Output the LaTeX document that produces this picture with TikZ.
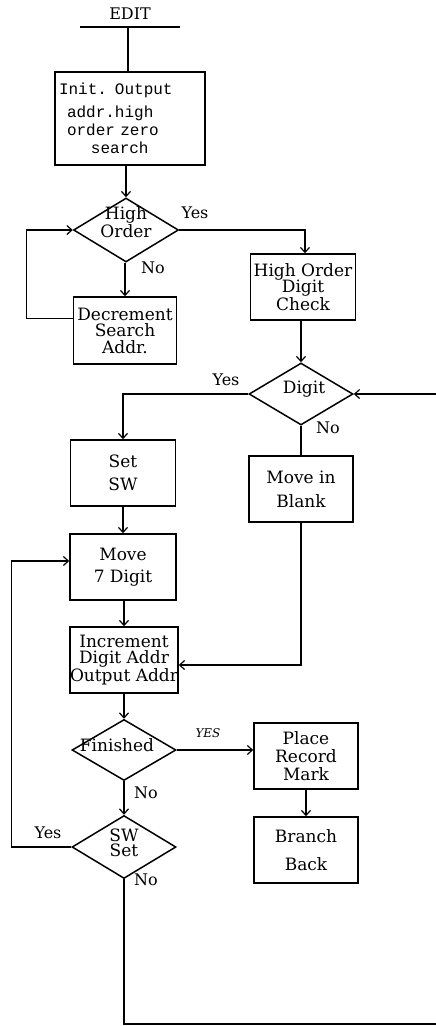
\documentclass[tikz,border=0pt]{standalone}
\usepackage{fontspec}
\setmainfont{DejaVu Serif}
\setmonofont{Liberation Mono}
\usetikzlibrary{arrows.meta,shapes.geometric,calc}

\tikzset{
  proc/.style={draw, line width=1.5pt, minimum width=104pt, minimum height=66pt,
    inner sep=0pt, align=center, font=\fontsize{17}{16.5}\selectfont},
  dec/.style={draw, diamond, line width=1.5pt, inner sep=0pt},
  dtext/.style={align=center, inner sep=0pt, font=\fontsize{17}{15}\selectfont},
  lbl/.style={inner sep=0pt, font=\fontsize{16}{16}\selectfont},
  flow/.style={line width=1.2pt},
  arr/.style={flow, -{Straight Barb[length=5pt,width=9pt]}}
}

\begin{document}
\begin{tikzpicture}[x=1pt, y=-1pt]
  \useasboundingbox (0,0) rectangle (436,1026);

  % entry
  \node[lbl, font=\fontsize{16}{16}\selectfont] (edit) at (130,14) {EDIT};
  \coordinate (editl) at (80,27);
  \coordinate (editr) at (180,27);
  \coordinate (editc) at (128,27);
  \draw[flow] (editl) -- (editr);

  % boxes
  \node[proc, minimum width=150pt, minimum height=93pt, text width=142pt, align=left,
    font=\fontsize{16}{18}\ttfamily]
    (init) at (130,118.5) {Init. Output\\[5pt]\hspace*{0.5em}addr.high\\
      \hspace*{0.5em}order zero\\\hspace*{2em}search};
  \node[proc, minimum width=103pt, minimum height=67pt] (decr) at (125,330.5)
    {Decrement\\Search\\Addr.};
  \node[proc, minimum width=105pt] (hodc) at (303,287) {High Order\\Digit\\Check};
  \node[proc, minimum width=105pt, font=\fontsize{17}{23}\selectfont] (setsw) at (123,473) {Set\\SW};
  \node[proc, minimum width=106pt, font=\fontsize{17}{22}\selectfont] (move7) at (123,567) {Move\\7 Digit};
  \node[proc, font=\fontsize{17}{24}\selectfont] (blank) at (301,489) {Move in\\Blank};
  \node[proc] (incr) at (124,660) {Increment\\Digit Addr\\Output Addr};
  \node[proc, font=\fontsize{17}{18}\selectfont] (place) at (306,756) {Place\\Record\\Mark};
  \node[proc, font=\fontsize{17}{28}\selectfont] (branch) at (306,850) {Branch\\Back};

  % decisions
  \node[dec, minimum width=105pt, minimum height=64pt] (highord) at (126,230) {};
  \node[dtext] (highordtxt) at (126,222) {High\\Order};
  \node[dec, minimum width=104pt, minimum height=62pt] (digit) at (301,394) {};
  \node[dtext] (digittxt) at (304,389) {Digit};
  \node[dec, minimum width=104pt, minimum height=61pt] (finished) at (124,750) {};
  \node[dtext] (finishedtxt) at (117,745) {Finished};
  \node[dec, minimum width=104pt, minimum height=63pt] (swset) at (124,847) {};
  \node[dtext] (swsettxt) at (124,843) {SW\\Set};

  % labels
  \node[lbl] (y1) at (195,213) {Yes};
  \node[lbl] (n1) at (153,268) {No};
  \node[lbl] (y2) at (226,380) {Yes};
  \node[lbl] (n2) at (328,428) {No};
  \node[lbl, font=\fontsize{12}{12}\itshape] (y3) at (208,733) {YES};
  \node[lbl] (n3) at (146,793) {No};
  \node[lbl] (y4) at (48,833) {Yes};
  \node[lbl] (n4) at (146,880) {No};

  % connectors
  \draw[flow] (editc) -- (editc |- init.north);
  \draw[arr] (init.south -| highord.north) -- (highord.north);
  \draw[arr] (highord.south -| decr.north) -- (decr.north);
  \draw[arr] ([yshift=12pt]decr.west) -- ++(-46,0) |- (highord.west);
  \draw[arr] (highord.east) -| ([xshift=2pt]hodc.north);
  \draw[arr] (hodc.south -| digit.north) -- (digit.north);
  \draw[arr] (digit.west) -| (setsw.north);
  \draw[flow] (digit.south) -- (blank.north);
  \draw[arr] (setsw.south) -- (move7.north);
  \draw[arr] (move7.south -| incr.north) -- (incr.north);
  \draw[arr] (blank.south) |- ([yshift=-5pt]incr.east);
  \draw[arr] (incr.south) -- (finished.north);
  \draw[arr] (finished.east) -- (finished.east -| place.west);
  \draw[arr] (place.south) -- (branch.north);
  \draw[arr] (finished.south) -- (swset.north);
  \draw[arr] (swset.west) -- ++(-60,0) |- ([yshift=6pt]move7.west);
  \coordinate (loopend) at (436.4,1024);
  \draw[arr] (swset.south) |- (loopend) |- (digit.east);
\end{tikzpicture}
\end{document}
